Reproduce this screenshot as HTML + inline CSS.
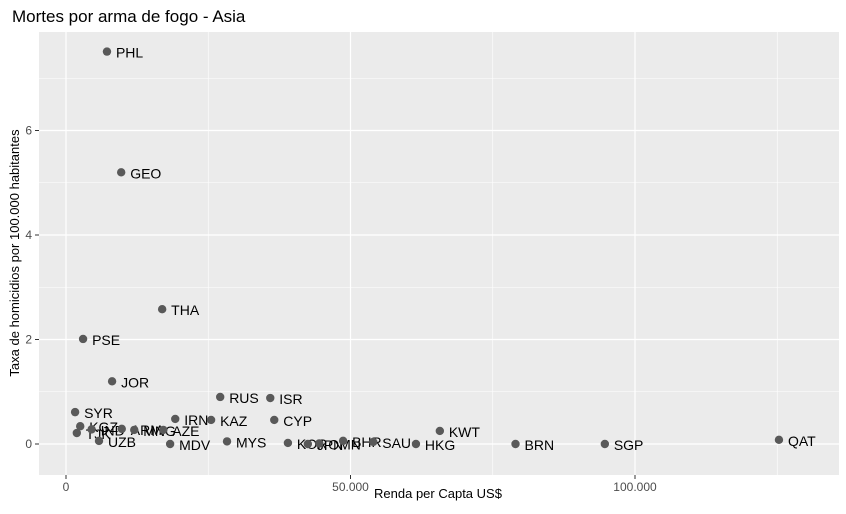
<!DOCTYPE html>
<html><head><meta charset="utf-8"><style>
body{margin:0;background:#fff;font-family:"Liberation Sans",Arial,sans-serif}
svg text{font-family:"Liberation Sans",Arial,sans-serif}
</style></head><body>
<svg id="chart" width="846" height="509" xmlns="http://www.w3.org/2000/svg">
<text x="12" y="22" font-size="17" fill="#000">Mortes por arma de fogo - Asia</text>
<rect x="39" y="32" width="800" height="443" fill="#ebebeb"/>
<g id="grid"></g>
<g id="points"></g>
<g id="axes"></g>
<text x="438" y="498" font-size="13" text-anchor="middle" fill="#000">Renda per Capta US$</text>
<text transform="translate(19,253) rotate(-90)" font-size="13" text-anchor="middle" fill="#000">Taxa de homicidios por 100.000 habitantes</text>
</svg>
<script>
const countries=["PHL","GEO","THA","PSE","JOR","RUS","ISR","SYR","IRN","KAZ","CYP","KGZ","TJK","IND","ARM","MNG","AZE","UZB","MDV","MYS","KOR","JPN","OMN","BHR","SAU","HKG","KWT","BRN","SGP","QAT"];
const income=[7200,9700,16900,3000,8100,27100,35900,1600,19200,25500,36600,2500,1900,4500,9800,12000,17100,5800,18300,28300,39000,42500,44500,48700,54000,61500,65700,79000,94700,125300];
const rate=[7.51,5.2,2.58,2.01,1.2,0.9,0.88,0.61,0.48,0.46,0.46,0.34,0.21,0.28,0.29,0.27,0.27,0.06,0.0,0.05,0.02,0.0,0.01,0.06,0.04,0.0,0.25,0.0,0.0,0.08];
const xTicks=[0,50000,100000];
const xTickLabels=["0","50.000","100.000"];
const yTicks=[0,2,4,6];
const ns="http://www.w3.org/2000/svg";
const X=v=>66+v*(635-66)/100000;
const Y=v=>444-v*(444-130.5)/6;
function mk(t,a,p){const e=document.createElementNS(ns,t);for(const k in a)e.setAttribute(k,a[k]);p.appendChild(e);return e;}
const grid=document.getElementById('grid'),axes=document.getElementById('axes'),pts=document.getElementById('points');
for(let i=0;i<xTicks.length-1;i++){const m=(xTicks[i]+xTicks[i+1])/2;const l=mk('line',{x1:X(m),x2:X(m),y1:32,y2:475,stroke:'#fff','stroke-width':0.6},grid);

}
{const l=mk('line',{x1:X(125000),x2:X(125000),y1:32,y2:475,stroke:'#fff','stroke-width':0.6},grid);

}
for(let v=1;v<=7;v+=2){const l=mk('line',{x1:39,x2:839,y1:Y(v),y2:Y(v),stroke:'#fff','stroke-width':0.6},grid);

}
xTicks.forEach((v,i)=>{const l=mk('line',{x1:X(v),x2:X(v),y1:32,y2:475,stroke:'#fff','stroke-width':1.2},grid);


const tk=mk('line',{x1:X(v),x2:X(v),y1:475,y2:479,stroke:'#333'},axes);


const t=mk('text',{x:X(v),y:491,'font-size':12,'text-anchor':'middle',fill:'#4d4d4d'},axes);t.textContent=xTickLabels[i];

});
yTicks.forEach(v=>{const l=mk('line',{x1:39,x2:839,y1:Y(v),y2:Y(v),stroke:'#fff','stroke-width':1.2},grid);


const tk=mk('line',{x1:35,x2:39,y1:Y(v),y2:Y(v),stroke:'#333'},axes);


const t=mk('text',{x:32,y:Y(v)+4,'font-size':12,'text-anchor':'end',fill:'#4d4d4d'},axes);t.textContent=v;

});
countries.forEach((c,i)=>{const cx=X(income[i]),cy=Y(rate[i]);
const p=mk('circle',{cx:cx,cy:cy,r:4.2,fill:'#595959'},pts);


const t=mk('text',{x:cx+9,y:cy+6,'font-size':14,fill:'#000'},pts);t.textContent=c;

});
</script>
</body></html>
